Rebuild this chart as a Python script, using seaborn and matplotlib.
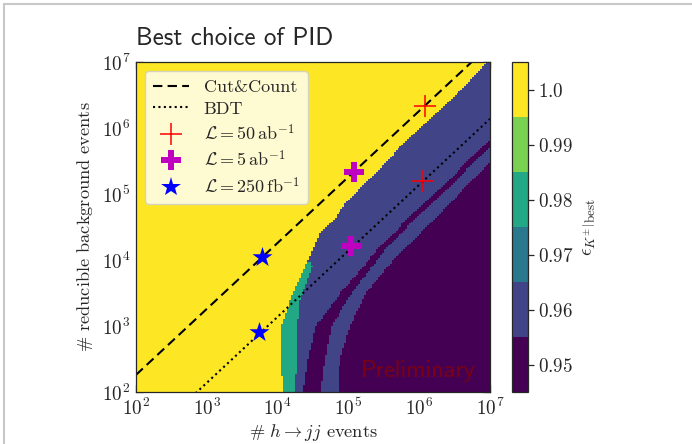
import numpy as np
import matplotlib
matplotlib.use("Agg")
import matplotlib.pyplot as plt
from matplotlib.colors import ListedColormap, BoundaryNorm
from matplotlib.lines import Line2D
from matplotlib.ticker import FuncFormatter, LogLocator, NullFormatter
import seaborn as sns

# ---- efficiency levels and their colours ----
eff_levels = [0.95, 0.96, 0.97, 0.98, 0.99, 1.0]
eff_colors = ["#440154", "#414487", "#2a788e", "#22a884", "#7ad151", "#fde725"]

# ---- region boundaries in (log10 S, log10 B) ----
# yellow (eps = 1.0) lies left of this curve
yellow_v = [2.0, 2.5, 3.0, 3.5, 3.9, 4.41, 4.65, 4.91, 5.33, 5.67, 6.6, 7.0]
yellow_u = [4.08, 4.06, 4.06, 4.22, 4.39, 4.60, 4.82, 5.0, 5.40, 5.69, 6.62, 6.96]
# eps = 0.98 strip to the right of the yellow region
teal_v = [2.0, 2.4, 2.9, 3.4, 3.9, 3.98]
teal_u = [4.25, 4.27, 4.27, 4.32, 4.49, 4.47]
# thin eps = 0.95 band: centre and width
band_v = [2.0, 2.5, 3.0, 3.5, 3.88, 4.2, 5.0, 5.76, 7.0]
band_u = [4.48, 4.55, 4.65, 4.97, 5.26, 5.49, 6.26, 7.0, 8.2]
band_w = [0.24, 0.24, 0.22, 0.16, 0.12, 0.11, 0.11, 0.11, 0.11]
# eps = 0.95 bulk lies right of this curve
outer_v = [2.0, 2.48, 2.98, 3.5, 4.0, 4.2, 5.48, 7.0]
outer_u = [4.85, 4.88, 5.02, 5.25, 5.63, 5.83, 7.0, 8.47]

# ---- working points ----
cc_k = 1.82     # B/S along the Cut&Count line
bdt_k = 0.138   # B/S along the BDT line
lumi_labels = [r"$\mathcal{L} = 50\,\mathrm{ab}^{-1}$",
               r"$\mathcal{L} = 5\,\mathrm{ab}^{-1}$",
               r"$\mathcal{L} = 250\,\mathrm{fb}^{-1}$"]
S_cc = [1.2e6, 1.2e5, 6.0e3]
B_cc = [2.15e6, 2.15e5, 1.1e4]
S_bdt = [1.1e6, 1.1e5, 5.5e3]
B_bdt = [1.58e5, 1.62e4, 8.1e2]

# ---- style ----
sns.set_style("ticks")
plt.rcParams.update({
    "font.family": ["cmr10", "DejaVu Serif"],
    "mathtext.fontset": "cm",
    "axes.formatter.use_mathtext": True,
    "axes.unicode_minus": False,
    "xtick.direction": "in",
    "ytick.direction": "in",
    "xtick.top": True,
    "ytick.right": True,
})

fig = plt.figure(figsize=(6.92, 4.44), dpi=100)
ax = fig.add_axes([0.1965, 0.117, 0.5115, 0.743])
cax = fig.add_axes([0.740, 0.117, 0.023, 0.743])

# ---- efficiency map ----
n = 180
edges = np.linspace(2, 7, n + 1)
cen = 0.5 * (edges[:-1] + edges[1:])
U, V = np.meshgrid(cen, cen)
Y = np.interp(V, yellow_v, yellow_u)
T = np.where(V <= teal_v[-1], np.interp(V, teal_v, teal_u), -np.inf)
Bc = np.interp(V, band_v, band_u)
Bw = np.interp(V, band_v, band_w)
O = np.interp(V, outer_v, outer_u)
eps = np.full(U.shape, 0.95)
eps[U < O] = 0.96
eps[(U >= Bc - Bw / 2) & (U < Bc + Bw / 2)] = 0.95
eps[U < Bc - Bw / 2] = 0.96
eps[U < T] = 0.98
eps[U < Y] = 1.0

cmap = ListedColormap(eff_colors)
bounds = np.append(np.array(eff_levels) - 0.005, eff_levels[-1] + 0.005)
norm = BoundaryNorm(bounds, cmap.N)
mesh = ax.pcolormesh(10 ** edges, 10 ** edges, eps, cmap=cmap, norm=norm,
                     shading="flat", rasterized=True)

# ---- Cut&Count and BDT lines ----
s_line = np.logspace(2, 7, 50)
sns.lineplot(x=s_line, y=cc_k * s_line, ax=ax, color="black", lw=1.5,
             linestyle=(0, (4.5, 2.5)), legend=False)
sns.lineplot(x=s_line, y=bdt_k * s_line, ax=ax, color="black", lw=1.5,
             linestyle=(0, (1, 1.6)), legend=False)

# ---- working-point markers ----
mk = [dict(marker="+", color="red", s=260, linewidths=1.1),
      dict(marker="P", color="#c000c0", s=190, linewidths=0),
      dict(marker="*", color="blue", s=230, linewidths=0)]
for i in range(3):
    sns.scatterplot(x=[S_cc[i], S_bdt[i]], y=[B_cc[i], B_bdt[i]], ax=ax,
                    zorder=5, legend=False, **mk[i])

ax.set_xscale("log")
ax.set_yscale("log")
ax.set_xlim(1e2, 1e7)
ax.set_ylim(1e2, 1e7)
dec = FuncFormatter(lambda x, p: r"$10^{%d}$" % round(np.log10(x)))
for axis in (ax.xaxis, ax.yaxis):
    axis.set_major_locator(LogLocator(base=10, numticks=10))
    axis.set_major_formatter(dec)
    axis.set_minor_locator(LogLocator(base=10, subs=np.arange(2, 10), numticks=20))
    axis.set_minor_formatter(NullFormatter())
ax.tick_params(which="major", length=5, width=0.9, labelsize=13.8, pad=4)
ax.tick_params(which="minor", length=2.5, width=0.7)
for sp in ax.spines.values():
    sp.set_linewidth(0.9)

ax.set_xlabel(r"$\#\ h \rightarrow jj$ events", fontsize=13.2, labelpad=2)
ax.set_ylabel(r"$\#$ reducible background events", fontsize=13.2, labelpad=5)
ax.set_title("Best choice of PID", family="cmss10", fontsize=18, loc="left", pad=12)

ax.text(0.797, 0.064, "Preliminary", transform=ax.transAxes, family="cmss10",
        fontsize=17.5, color="#8b0000", alpha=0.75, ha="center", va="center", zorder=4)

# ---- legend ----
handles = [
    Line2D([], [], color="black", lw=1.5, linestyle=(0, (4.5, 2.5))),
    Line2D([], [], color="black", lw=1.5, linestyle=(0, (1, 1.6))),
    Line2D([], [], color="red", marker="+", ls="none", markersize=16, mew=1.1),
    Line2D([], [], color="#c000c0", marker="P", ls="none", markersize=14, mew=0),
    Line2D([], [], color="blue", marker="*", ls="none", markersize=15, mew=0),
]
labels = ["Cut&Count", "BDT"] + lumi_labels
ax.legend(handles, labels, loc="upper left", fontsize=13, frameon=True,
          framealpha=0.8, edgecolor="0.8", fancybox=True, borderpad=0.45,
          labelspacing=0.33, handlelength=2.0)

# ---- colour bar ----
cb = fig.colorbar(mesh, cax=cax, boundaries=bounds, ticks=eff_levels)
cb.ax.yaxis.set_major_formatter(FuncFormatter(
    lambda x, p: r"$%s$" % ("1.0" if abs(x - 1) < 1e-6 else "%.2f" % x)))
cb.ax.tick_params(labelsize=13.8, length=4, direction="out", width=0.9)
cb.ax.minorticks_off()
cb.outline.set_linewidth(0.9)
cb.set_label(r"$\left.\epsilon_{K^{\pm}}\right|_{\mathrm{best}}$", fontsize=13.5, labelpad=4)

# page frame
fig.add_artist(Line2D([0.006, 1.0], [0.991, 0.991], color="#c8c8c8", lw=1.5,
                      transform=fig.transFigure))
fig.add_artist(Line2D([0.006, 0.006], [0.0, 0.991], color="#c8c8c8", lw=1.5,
                      transform=fig.transFigure))

fig.savefig("out.png", dpi=100)
